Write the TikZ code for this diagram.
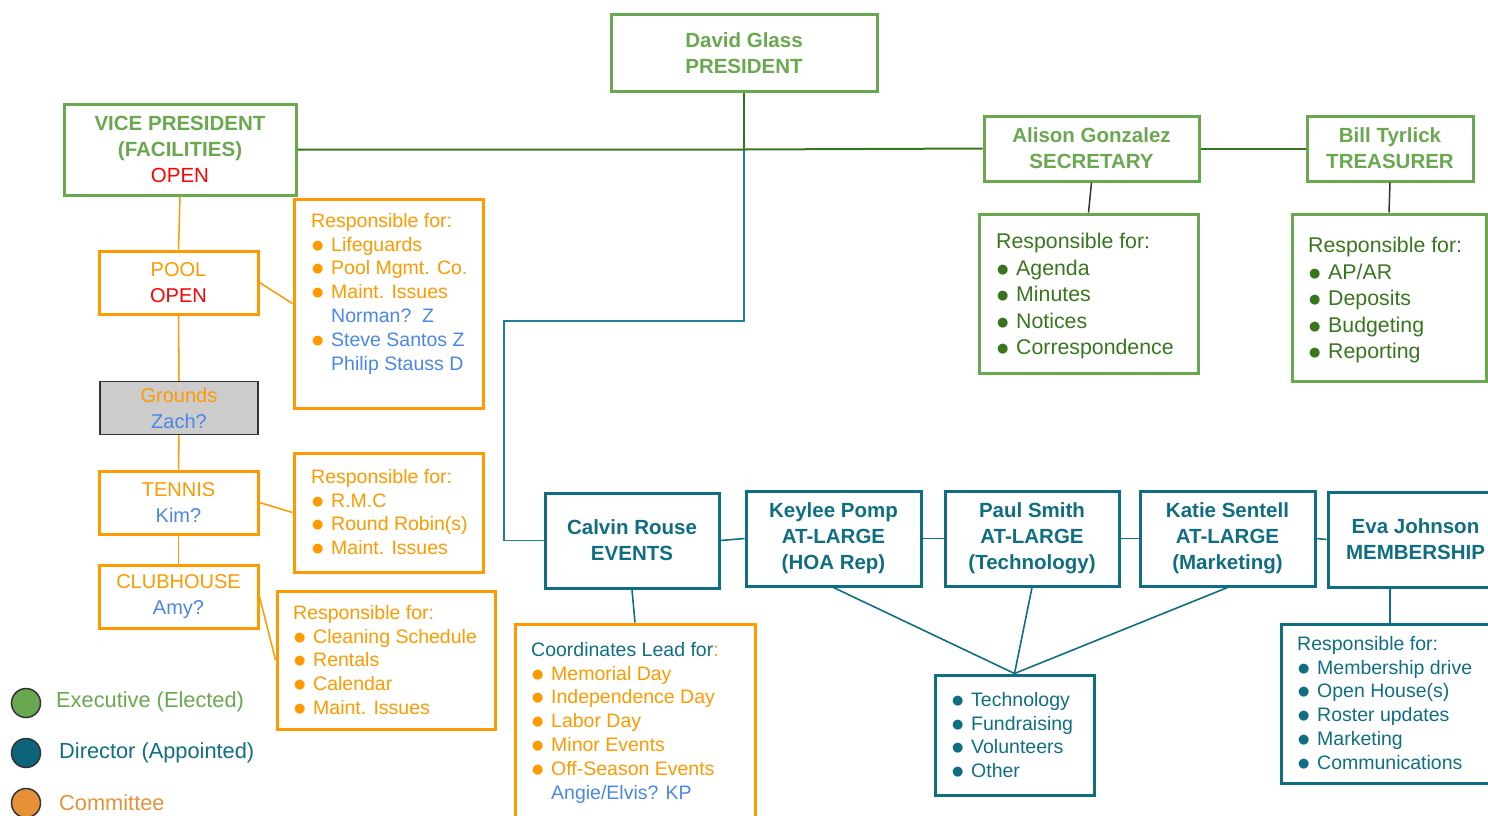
\documentclass[tikz,border=0pt]{standalone}
\usepackage{fontspec}
\setmainfont{Liberation Sans}
\newfontfamily\dejavu{DejaVu Sans}
\definecolor{gborder}{HTML}{6AA84F}
\definecolor{gdark}{HTML}{38761D}
\definecolor{tealc}{HTML}{0F6E82}
\definecolor{tline}{HTML}{1F7E98}
\definecolor{orangec}{HTML}{FF9900}
\definecolor{bluec}{HTML}{4A86E8}
\definecolor{redc}{HTML}{FF0000}
\definecolor{grayf}{HTML}{CCCCCC}
\definecolor{darkc}{HTML}{333333}
\definecolor{legorange}{HTML}{E69138}
\definecolor{legteal}{HTML}{0B6479}
\newcommand{\itm}[1]{\makebox[20pt][l]{\hspace{1pt}\raisebox{2pt}{\dejavu\fontsize{13}{13}\selectfont ●}}#1}
\newcommand{\ind}[1]{\hspace{20pt}#1}
\begin{document}
\begin{tikzpicture}[x=1pt,y=-1pt,
  box/.style={draw, line width=3pt, inner sep=0pt, align=center},
  gbox/.style={box, draw=gborder, text=gborder, font=\bfseries\fontsize{20.5}{26}\selectfont},
  tbox/.style={box, draw=tealc, text=tealc, font=\bfseries\fontsize{20.5}{26}\selectfont},
  obox/.style={box, draw=orangec, text=orangec, font=\fontsize{20}{26}\selectfont},
  glist/.style={box, draw=gborder},
  olist/.style={box, draw=orangec},
  tlist/.style={box, draw=tealc},
  listtxt/.style={anchor=north west, inner sep=0pt, align=left, font=\fontsize{19.5}{23.8}\selectfont},
  glisttxt/.style={listtxt, text=gdark, font=\fontsize{21.3}{26.5}\selectfont},
  gline/.style={draw=gdark, line width=2pt},
  oline/.style={draw=orangec, line width=1.5pt},
  tconn/.style={draw=tealc, line width=1.6pt},
  dline/.style={draw=darkc, line width=1.5pt},
  legdot/.style={circle, draw=darkc, line width=1.5pt, minimum size=29pt, inner sep=0pt},
  legtxt/.style={anchor=west, inner sep=0pt, font=\fontsize{21.8}{26}\selectfont}
]
\useasboundingbox (0,0) rectangle (1488,815);

% Executive row
\node[gbox, minimum width=266pt, minimum height=77pt] (pres) at (744,53) {David Glass\\PRESIDENT};
\node[gbox, minimum width=232pt, minimum height=91pt] (vp) at (180,149.5) {VICE PRESIDENT\\(FACILITIES)\\{\mdseries\color{redc}OPEN}};
\node[gbox, minimum width=215pt, minimum height=65pt] (sec) at (1091.5,148.5) {Alison Gonzalez\\SECRETARY};
\node[gbox, minimum width=166pt, minimum height=65pt] (trs) at (1390,148.5) {Bill Tyrlick\\TREASURER};

\node[glist, minimum width=219pt, minimum height=159pt] (secR) at (1088.5,293.5) {};
\node[glisttxt] (secRt) at (996,233) {Responsible for:\\\itm{Agenda}\\\itm{Minutes}\\\itm{Notices}\\\itm{Correspondence}};
\node[glist, minimum width=194pt, minimum height=167pt] (trsR) at (1389,297.5) {};
\node[glisttxt] (trsRt) at (1308,237) {Responsible for:\\\itm{AP/AR}\\\itm{Deposits}\\\itm{Budgeting}\\\itm{Reporting}};

% Committees
\node[obox, minimum width=159pt, minimum height=63pt] (pool) at (178.5,282.5) {POOL\\{\color{redc}OPEN}};
\node[box, draw=darkc, line width=1.5pt, fill=grayf, minimum width=158pt, minimum height=53pt, font=\fontsize{20}{26}\selectfont] (grounds) at (179,408) {{\color{orangec}Grounds}\\{\color{bluec}Zach?}};
\node[obox, minimum width=159pt, minimum height=63pt] (tennis) at (178.5,502.5) {TENNIS\\{\color{bluec}Kim?}};
\node[obox, minimum width=159pt, minimum height=63pt] (club) at (178.5,596.5) {CLUBHOUSE\\{\color{bluec}Amy?}};

\node[olist, minimum width=189pt, minimum height=209pt] (poolR) at (388.5,303.5) {};
\node[listtxt, text=orangec] (poolRt) at (311,213) {Responsible for:\\\itm{Lifeguards}\\\itm{Pool Mgmt. Co.}\\\itm{Maint. Issues}\\\ind{\color{bluec}Norman?~~Z}\\\itm{\color{bluec}Steve Santos Z}\\\ind{\color{bluec}Philip Stauss D}};
\node[olist, minimum width=189pt, minimum height=119pt] (tennisR) at (388.5,512.5) {};
\node[listtxt, text=orangec] (tennisRt) at (311,469) {Responsible for:\\\itm{R.M.C}\\\itm{Round Robin(s)}\\\itm{Maint. Issues}};
\node[olist, minimum width=218pt, minimum height=138pt] (clubR) at (386,660) {};
\node[listtxt, text=orangec] (clubRt) at (293,605) {Responsible for:\\\itm{Cleaning Schedule}\\\itm{Rentals}\\\itm{Calendar}\\\itm{Maint. Issues}};

% Directors
\node[tbox, minimum width=174pt, minimum height=95pt] (calvin) at (632,540.5) {Calvin Rouse\\EVENTS};
\node[tbox, minimum width=175pt, minimum height=95pt] (keylee) at (833.5,538.5) {Keylee Pomp\\AT-LARGE\\(HOA Rep)};
\node[tbox, minimum width=174pt, minimum height=95pt] (paul) at (1032,538.5) {Paul Smith\\AT-LARGE\\(Technology)};
\node[tbox, minimum width=175pt, minimum height=95pt] (katie) at (1227.5,538.5) {Katie Sentell\\AT-LARGE\\(Marketing)};
\node[tbox, minimum width=175pt, minimum height=95pt] (eva) at (1415.5,539.5) {Eva Johnson\\MEMBERSHIP};

\node[olist, minimum width=240pt, minimum height=216pt] (calvinR) at (635,732) {};
\node[listtxt, text=orangec] (calvinRt) at (531,642) {{\color{tealc}Coordinates Lead for}:\\\itm{Memorial Day}\\\itm{Independence Day}\\\itm{Labor Day}\\\itm{Minor Events}\\\itm{Off-Season Events}\\\ind{\color{bluec}Angie/Elvis? KP}};
\node[tlist, minimum width=159pt, minimum height=120pt] (tech) at (1014.5,735) {};
\node[listtxt, text=tealc] (techt) at (951,692) {\itm{Technology}\\\itm{Fundraising}\\\itm{Volunteers}\\\itm{Other}};
\node[tlist, minimum width=218pt, minimum height=159pt] (evaR) at (1390,703.5) {};
\node[listtxt, text=tealc] (evaRt) at (1297,636) {Responsible for:\\\itm{Membership drive}\\\itm{Open House(s)}\\\itm{Roster updates}\\\itm{Marketing}\\\itm{Communications}};

% Legend
\node[legdot, fill=gborder] (l1) at (26,703) {};
\node[legtxt, text=gborder] (l1t) at (56,702) {Executive (Elected)};
\node[legdot, fill=legteal] (l2) at (26,753) {};
\node[legtxt, text=tealc] (l2t) at (59,753) {Director (Appointed)};
\node[legdot, fill=legorange] (l3) at (26,803) {};
\node[legtxt, text=legorange] (l3t) at (59,803) {Committee};

% Connectors
\coordinate (hub) at (744,149.5);
\coordinate (tl1) at (504,321);
\draw[gline] (pres.south) -- (hub);
\draw[gline] (vp.east) -- (hub) -- (sec.west);
\draw[gline] (sec.east) -- (trs.west);
\draw[dline] (sec.south) -- (secR.north);
\draw[dline] (trs.south) -- (trsR.north);
\draw[draw=tline, line width=1.3pt] (hub) |- (tl1) |- (calvin.west);

\draw[oline] (vp.south) -- (pool.north);
\draw[oline] (pool.south) -- (grounds.north);
\draw[oline] (grounds.south) -- (tennis.north);
\draw[oline] (tennis.south) -- (club.north);
\draw[oline] (pool.east) -- (poolR.west);
\draw[oline] (tennis.east) -- (tennisR.west);
\draw[oline] (club.east) -- (clubR.west);

\draw[tconn] (calvin.east) -- (keylee.west);
\draw[tconn] (keylee.east) -- (paul.west);
\draw[tconn] (paul.east) -- (katie.west);
\draw[tconn] (katie.east) -- (eva.west);
\draw[tconn] (calvin.south) -- (calvinR.north);
\draw[tconn] (keylee.south) -- (tech.north);
\draw[tconn] (paul.south) -- (tech.north);
\draw[tconn] (katie.south) -- (tech.north);
\draw[tconn] (evaR.north |- eva.south) -- (evaR.north);
\end{tikzpicture}
\end{document}
